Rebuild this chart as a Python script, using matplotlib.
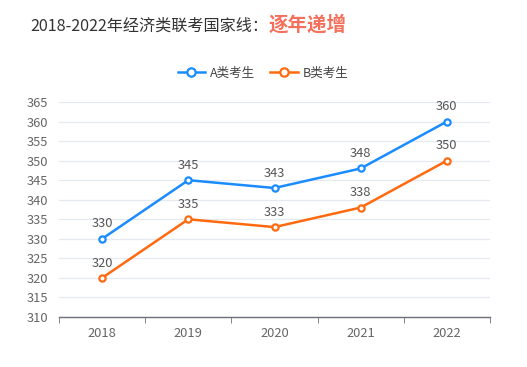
import matplotlib
matplotlib.use("Agg")
import matplotlib.pyplot as plt
from matplotlib.lines import Line2D

plt.rcParams['font.family'] = ['Noto Sans CJK SC', 'DejaVu Sans']

years = ["2018", "2019", "2020", "2021", "2022"]
series_a = [330, 345, 343, 348, 360]
series_b = [320, 335, 333, 338, 350]
name_a = "A类考生"
name_b = "B类考生"
yticks = list(range(310, 366, 5))

color_a = "#1a8cff"
color_b = "#ff6a10"
text_gray = "#666666"

fig = plt.figure(figsize=(5.27, 3.67), dpi=100)
ax = fig.add_axes([59/527, 1-317/367, 431/527, 215/367])

x = list(range(len(years)))
for vals, c, name in [(series_a, color_a, name_a), (series_b, color_b, name_b)]:
    ax.plot(x, vals, color=c, lw=1.8, marker='o', ms=4.5, mfc='white', mec=c, mew=1.6, zorder=3, label=name)
    for xi, v in zip(x, vals):
        ax.annotate(str(v), (xi, v), xytext=(0, 6), textcoords='offset points',
                    ha='center', va='bottom', fontsize=9.3, color='#555555')

ax.set_xlim(-0.5, len(years) - 0.5)
ax.set_ylim(310, 365)
ax.set_yticks(yticks)
ax.set_yticklabels([str(t) for t in yticks], fontsize=9.3, color=text_gray)
ax.set_xticks(x)
ax.set_xticklabels(years, fontsize=9.3, color=text_gray)
ax.tick_params(axis='x', length=0, pad=7)
ax.set_xticks([i - 0.5 for i in range(len(years) + 1)], minor=True)
ax.tick_params(axis='x', which='minor', length=4, color='#6e7079', direction='out')
ax.tick_params(axis='y', length=0, pad=8)
ax.grid(axis='y', color='#e6e9f0', lw=0.9)
ax.set_axisbelow(True)
for s in ['top', 'right', 'left']:
    ax.spines[s].set_visible(False)
ax.spines['bottom'].set_color('#6e7079')
ax.spines['bottom'].set_linewidth(1)

handles = [Line2D([], [], color=color_a, lw=1.8, marker='o', ms=6, mfc='white', mec=color_a, mew=1.6),
           Line2D([], [], color=color_b, lw=1.8, marker='o', ms=6, mfc='white', mec=color_b, mew=1.6)]
fig.legend(handles, [name_a, name_b], loc='center', bbox_to_anchor=(263/527, 1-73/367),
           ncol=2, frameon=False, fontsize=9, labelcolor='#444444',
           handlelength=2.2, columnspacing=1.2, handletextpad=0.4)

fig.text(30/527, 1-26/367, "2018-2022年经济类联考国家线：", fontsize=11.6, color='#333333', va='center', ha='left')
fig.text(269/527, 1-25/367, "逐年递增", fontsize=14, color='#f5705c', fontweight='bold', va='center', ha='left')

fig.savefig("out.png", dpi=100)
